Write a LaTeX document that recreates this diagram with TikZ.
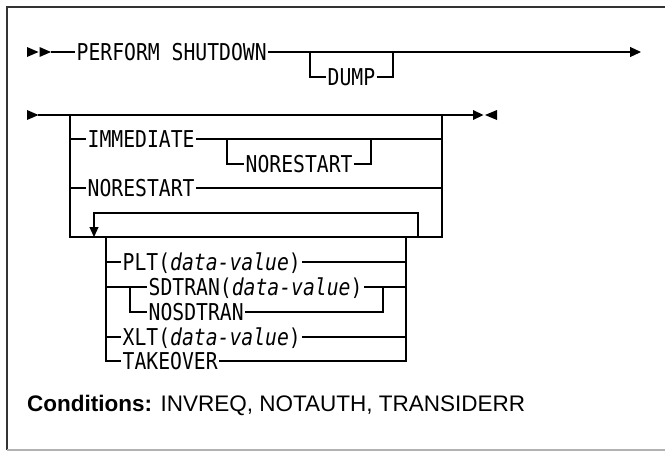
\documentclass[tikz,border=0pt]{standalone}
\usepackage{fontspec}
\setmainfont{Liberation Sans}
\newfontfamily\rrmono[FakeStretch=0.85]{DejaVu Sans Mono}
\usetikzlibrary{arrows.meta}
\tikzset{
  rail/.style={line width=1.2pt},
  kw/.style={font=\rrmono\fontsize{23.2}{25}\selectfont, inner xsep=1.5pt, inner ysep=0pt,
             text height=16.9pt, text depth=0pt, anchor=west},
  endtip/.style={-{Triangle[length=11pt,width=10pt]}},
  looptip/.style={-{Triangle[length=10pt,width=9pt]}},
  marker/.style={fill=black},
}
\begin{document}
\begin{tikzpicture}[x=1pt,y=-1pt]
\useasboundingbox (0,0) rectangle (665,451);
% frame
\draw[line width=1.4pt, black!80] (670,7) -- (7,7) -- (7,450);
\draw[line width=1.6pt, black!30] (7,450) -- (670,450);

% ---------- row 1
\coordinate (s1) at (51,52);
\fill[marker] (27,47) -- (38.5,52) -- (27,57) -- cycle;
\fill[marker] (39.5,47) -- (51,52) -- (39.5,57) -- cycle;
\node[kw] (ps) at (75,52) {PERFORM SHUTDOWN};
\coordinate (e1) at (641,52);
\draw[rail] (s1) -- (ps.west);
\draw[rail, endtip] (ps.east) -- (e1);
\coordinate (d1) at (310,52);
\coordinate (d2) at (393,52);
\node[kw] (dump) at (326,77) {DUMP};
\draw[rail] (d1) |- (dump.west);
\draw[rail] (dump.east) -| (d2);

% ---------- row 2 main line
\coordinate (m0) at (38,115);
\coordinate (m1) at (473,115);
\fill[marker] (27,110) -- (38.5,115) -- (27,120) -- cycle;
\draw[rail] (m0) -- (m1);
\fill[marker] (473,110) -- (483.5,115) -- (473,120) -- cycle;
\fill[marker] (497,110) -- (485,115) -- (497,120) -- cycle;

\coordinate (L) at (70,115);
\coordinate (R) at (442,115);
\coordinate (Lb) at (70,237);
\coordinate (Rb) at (442,237);
\draw[rail] (L) -- (Lb) -- (Rb) -- (R);

% IMMEDIATE
\node[kw] (imm) at (86,139) {IMMEDIATE};
\draw[rail] (L |- imm.west) -- (imm.west);
\draw[rail] (imm.east) -- (R |- imm.east);
\coordinate (n1) at (227,139);
\coordinate (n2) at (371,139);
\node[kw] (nr1) at (244,164) {NORESTART};
\draw[rail] (n1) |- (nr1.west);
\draw[rail] (nr1.east) -| (n2);

% NORESTART
\node[kw] (nr2) at (86,188) {NORESTART};
\draw[rail] (L |- nr2.west) -- (nr2.west);
\draw[rail] (nr2.east) -- (R |- nr2.east);

% repeat loop
\coordinate (lp1) at (94,237);
\coordinate (lp2) at (418,237);
\coordinate (lpt) at (94,213);
\draw[rail, looptip] (lp2) |- (lpt) -- (lp1);

% inner group
\coordinate (iL) at (106,237);
\coordinate (iR) at (406,237);
\node[kw] (plt) at (121,262) {PLT(\textit{data-value})};
\node[kw] (sd) at (147,287) {SDTRAN(\textit{data-value})};
\node[kw] (nsd) at (147,312) {NOSDTRAN};
\node[kw] (xlt) at (121,337) {XLT(\textit{data-value})};
\node[kw] (tk) at (121,361) {TAKEOVER};
\draw[rail] (iL) |- (tk.west);
\draw[rail] (tk.east) -| (iR);
\draw[rail] (iL |- plt.west) -- (plt.west);
\draw[rail] (plt.east) -- (iR |- plt.east);
\draw[rail] (iL |- sd.west) -- (sd.west);
\draw[rail] (sd.east) -- (iR |- sd.east);
\coordinate (sa) at (130,287);
\coordinate (sb) at (383,287);
\draw[rail] (sa) |- (nsd.west);
\draw[rail] (nsd.east) -| (sb);
\draw[rail] (iL |- xlt.west) -- (xlt.west);
\draw[rail] (xlt.east) -- (iR |- xlt.east);

% conditions
\node[anchor=base west, inner sep=0pt, font=\fontsize{22.5}{26}\selectfont] (cond) at (27,411)
  {\textbf{Conditions:} INVREQ, NOTAUTH, TRANSIDERR};
\end{tikzpicture}
\end{document}
